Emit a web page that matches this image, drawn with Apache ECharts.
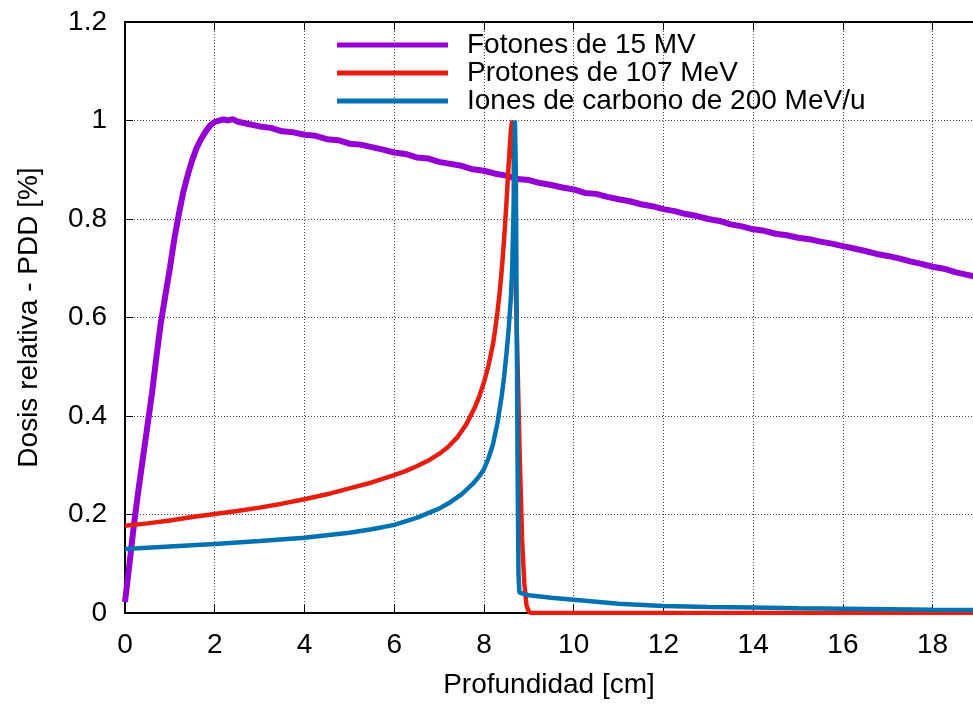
<!DOCTYPE html>
<html>
<head>
<meta charset="utf-8">
<script src="https://cdn.jsdelivr.net/npm/echarts@6/dist/echarts.min.js"></script>
<style>
  html, body { margin: 0; padding: 0; background: #fff; }
  #chart { width: 973px; height: 704px; }
</style>
</head>
<body>
<div id="chart"></div>
<script>
// Depth-dose curves (relative dose vs depth in water, cm)
const seriesNames = ['Fotones de 15 MV', 'Protones de 107 MeV', 'Iones de carbono de 200 MeV/u'];

const photonDepth = [0, 0.1, 0.2, 0.3, 0.4, 0.5, 0.6, 0.7, 0.8, 0.9, 1.0, 1.1, 1.2, 1.3, 1.4, 1.5, 1.6, 1.7, 1.8, 1.9, 2.0, 2.1, 2.2, 2.3, 2.4,
  2.5, 2.75, 3.0, 3.25, 3.5, 3.75, 4.0, 4.25, 4.5, 4.75, 5.0, 5.25, 5.5, 5.75, 6.0, 6.25, 6.5, 6.75, 7.0, 7.25, 7.5, 7.75,
  8.0, 8.25, 8.5, 8.75, 9.0, 9.25, 9.5, 9.75, 10.0, 10.25, 10.5, 10.75, 11.0, 11.25, 11.5, 11.75, 12.0, 12.25, 12.5, 12.75,
  13.0, 13.25, 13.5, 13.75, 14.0, 14.25, 14.5, 14.75, 15.0, 15.25, 15.5, 15.75, 16.0, 16.25, 16.5, 16.75, 17.0, 17.25,
  17.5, 17.75, 18.0, 18.25, 18.5, 18.75, 19.0];
const photonDose = [0.022, 0.10, 0.18, 0.25, 0.315, 0.38, 0.445, 0.52, 0.59, 0.645, 0.70, 0.76, 0.81, 0.855, 0.89, 0.92, 0.945, 0.963, 0.978, 0.99, 0.997, 1.0, 1.002, 1.0, 1.003,
  0.998, 0.993, 0.988, 0.985, 0.978, 0.976, 0.971, 0.969, 0.962, 0.960, 0.953, 0.951, 0.946, 0.941, 0.935, 0.932, 0.925, 0.923, 0.916, 0.912, 0.908, 0.901,
  0.898, 0.892, 0.888, 0.881, 0.879, 0.873, 0.869, 0.864, 0.860, 0.853, 0.851, 0.845, 0.840, 0.836, 0.830, 0.826, 0.820, 0.816, 0.810, 0.806,
  0.800, 0.796, 0.789, 0.785, 0.779, 0.776, 0.770, 0.767, 0.762, 0.759, 0.754, 0.750, 0.745, 0.740, 0.735, 0.729, 0.725, 0.720,
  0.714, 0.709, 0.703, 0.699, 0.692, 0.687, 0.682];

const protonDepth = [0, 0.5, 1, 1.5, 2, 2.5, 3, 3.5, 4, 4.5, 5, 5.5, 6, 6.25, 6.5, 6.75, 7.0, 7.2, 7.4, 7.6, 7.8, 7.9, 8.0, 8.1, 8.2, 8.25, 8.3, 8.35,
  8.4, 8.45, 8.5, 8.55, 8.6, 8.63, 8.66, 8.7, 8.75, 8.8, 8.85, 8.9, 8.95, 9.0, 9.05, 10, 12, 14, 16, 18, 19];
const protonDose = [0.177, 0.182, 0.188, 0.195, 0.201, 0.207, 0.214, 0.222, 0.231, 0.241, 0.253, 0.265, 0.280, 0.288, 0.298, 0.309, 0.323, 0.337, 0.356, 0.382, 0.418, 0.441, 0.468, 0.502, 0.545, 0.575, 0.61, 0.65,
  0.70, 0.76, 0.83, 0.91, 0.98, 1.0, 0.93, 0.70, 0.50, 0.31, 0.15, 0.06, 0.015, 0.003, 0.0, 0.0, 0.0, 0.0, 0.0, 0.0, 0.0];

const carbonDepth = [0, 1, 2, 3, 4, 5, 5.5, 6, 6.5, 7, 7.25, 7.5, 7.75, 7.9, 8.0, 8.1, 8.2, 8.3, 8.4, 8.45, 8.5, 8.55, 8.6, 8.63, 8.66, 8.69,
  8.71, 8.73, 8.75, 8.77, 8.79, 8.85, 9.0, 9.5, 10, 10.5, 11, 12, 13, 14, 15, 16, 17, 18, 19];
const carbonDose = [0.130, 0.135, 0.140, 0.146, 0.153, 0.163, 0.170, 0.179, 0.193, 0.212, 0.225, 0.241, 0.262, 0.278, 0.292, 0.314, 0.342, 0.385, 0.443, 0.48, 0.525, 0.575, 0.64, 0.70, 0.82, 1.0,
  0.90, 0.60, 0.30, 0.08, 0.042, 0.040, 0.036, 0.031, 0.027, 0.023, 0.019, 0.014, 0.012, 0.011, 0.0098, 0.0088, 0.0078, 0.0068, 0.0060];

const xTicks = [0, 2, 4, 6, 8, 10, 12, 14, 16, 18];
const yTicks = [0, 0.2, 0.4, 0.6, 0.8, 1, 1.2];

const colors = ['#9400d3', '#e51e10', '#0072b2'];
const FONT = '"Liberation Sans", Arial, Helvetica, sans-serif';

const zip = (xs, ys) => xs.map((x, i) => [x, ys[i]]);

const chart = echarts.init(document.getElementById('chart'), null, { renderer: 'canvas' });

const gridLine = { show: true, lineStyle: { color: '#444', width: 1, type: [1, 2] } };

chart.setOption({
  animation: false,
  backgroundColor: '#ffffff',
  color: colors,
  textStyle: { fontFamily: FONT },
  grid: { left: 125, top: 22, width: 850, height: 594 },
  legend: {
    orient: 'vertical',
    left: 337,
    top: 31,
    padding: 0,
    itemGap: 0,
    itemWidth: 111,
    itemHeight: 5,
    icon: 'rect',
    data: seriesNames,
    textStyle: { fontFamily: FONT, fontSize: 28, color: '#000', lineHeight: 28, padding: [0, 0, 0, 14] }
  },
  xAxis: [
    {
      type: 'value',
      min: 0,
      max: 18.9,
      interval: 2,
      name: 'Profundidad [cm]',
      nameLocation: 'middle',
      nameGap: 58,
      nameTextStyle: { fontFamily: FONT, fontSize: 28, color: '#000' },
      axisLine: { show: true, onZero: false, lineStyle: { color: '#000', width: 2 } },
      axisTick: { show: true, inside: true, length: 8, lineStyle: { color: '#000', width: 1 } },
      axisLabel: {
        show: true, margin: 18, color: '#000', fontFamily: FONT, fontSize: 28,
        showMaxLabel: false,
        formatter: v => (xTicks.includes(v) ? String(v) : '')
      },
      splitLine: gridLine
    },
    {
      type: 'value',
      position: 'top',
      min: 0,
      max: 18.9,
      interval: 2,
      axisLine: { show: true, onZero: false, lineStyle: { color: '#000', width: 2 } },
      axisTick: { show: true, inside: true, length: 8, lineStyle: { color: '#000', width: 1 } },
      axisLabel: { show: false },
      splitLine: { show: false }
    }
  ],
  yAxis: {
    type: 'value',
    min: 0,
    max: 1.2,
    interval: 0.2,
    name: 'Dosis relativa - PDD [%]',
    nameLocation: 'middle',
    nameGap: 82,
    nameTextStyle: { fontFamily: FONT, fontSize: 28, color: '#000' },
    axisLine: { show: true, onZero: false, lineStyle: { color: '#000', width: 2 } },
    axisTick: { show: true, inside: true, length: 8, lineStyle: { color: '#000', width: 1 } },
    axisLabel: {
      show: true, margin: 18, color: '#000', fontFamily: FONT, fontSize: 28,
      formatter: v => {
        const t = yTicks.find(k => Math.abs(k - v) < 1e-9);
        return t === undefined ? '' : String(t);
      }
    },
    splitLine: gridLine
  },
  series: [
    {
      name: seriesNames[0], type: 'line', xAxisIndex: 0,
      data: zip(photonDepth, photonDose),
      showSymbol: false, lineStyle: { width: 6, color: colors[0] }, itemStyle: { color: colors[0] }, z: 2
    },
    {
      name: seriesNames[1], type: 'line', xAxisIndex: 0,
      data: zip(protonDepth, protonDose),
      showSymbol: false, lineStyle: { width: 4.5, color: colors[1] }, itemStyle: { color: colors[1] }, z: 3
    },
    {
      name: seriesNames[2], type: 'line', xAxisIndex: 0,
      data: zip(carbonDepth, carbonDose),
      showSymbol: false, lineStyle: { width: 4.5, color: colors[2] }, itemStyle: { color: colors[2] }, z: 4
    }
  ]
});
</script>
</body>
</html>
